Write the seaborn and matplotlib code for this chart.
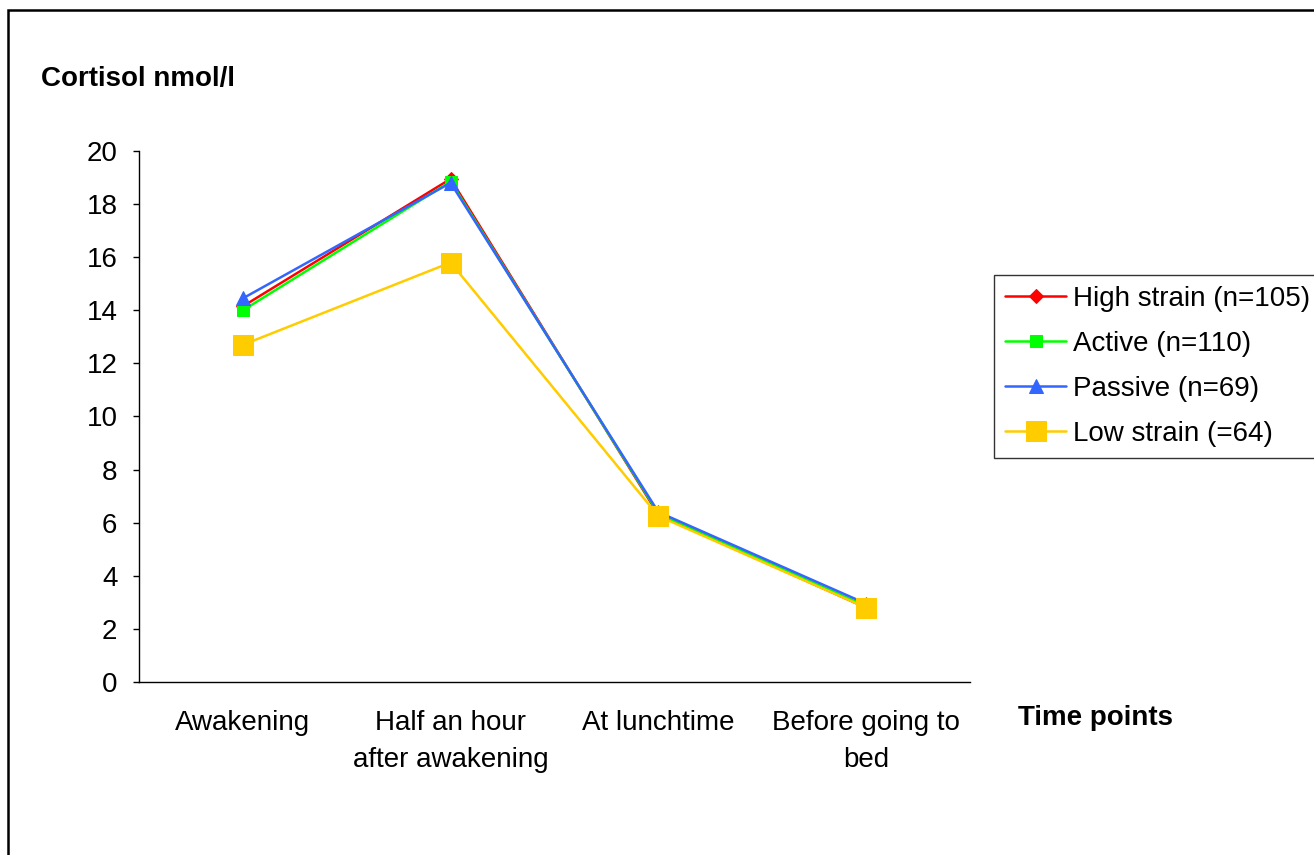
import pandas as pd
import seaborn as sns
import matplotlib.pyplot as plt
from matplotlib.patches import Rectangle
from matplotlib.ticker import MultipleLocator, FixedLocator

# Values
time_points = ["Awakening", "Half an hour\nafter awakening", "At lunchtime", "Before going to\nbed"]
high_strain = [14.15, 18.95, 6.3, 2.8]
active = [14.0, 18.85, 6.35, 2.85]
passive = [14.45, 18.8, 6.4, 2.95]
low_strain = [12.7, 15.8, 6.25, 2.8]

groups = ["High strain (n=105)", "Active (n=110)", "Passive (n=69)", "Low strain (=64)"]
series = [high_strain, active, passive, low_strain]

rows = []
for g, vals in zip(groups, series):
    for t, v in zip(time_points, vals):
        rows.append({"Time": t, "Cortisol": v, "Group": g})
df = pd.DataFrame(rows)

sns.set_style("white")
plt.rcParams['font.family'] = ['Liberation Sans', 'DejaVu Sans']
plt.rcParams['text.color'] = 'black'
plt.rcParams['axes.labelcolor'] = 'black'
plt.rcParams['xtick.color'] = 'black'
plt.rcParams['ytick.color'] = 'black'

colors = ["#FF0000", "#00FF00", "#3366FF", "#FFCC00"]
markers = ["D", "s", "^", "s"]
msizes = [7, 9, 10, 14]
FS = 20

fig = plt.figure(figsize=(13.14, 8.55), dpi=100)
W, H = 1314, 855
ax = fig.add_axes([139 / W, 1 - 682 / H, (970 - 139) / W, (682 - 151) / H])

for g, c, m, ms in zip(groups, colors, markers, msizes):
    sns.lineplot(data=df[df["Group"] == g], x="Time", y="Cortisol", ax=ax,
                 color=c, marker=m, markersize=ms, markeredgecolor=c,
                 linewidth=1.8, label=g, sort=False)

ax.set_xlim(-0.5, 3.5)
ax.set_ylim(0, 20)
ax.yaxis.set_major_locator(MultipleLocator(2))
ax.xaxis.set_major_locator(FixedLocator([0, 1, 2, 3]))
ax.set_xticklabels(time_points, fontsize=FS, linespacing=1.55)
ax.xaxis.set_minor_locator(FixedLocator([-0.5, 0.5, 1.5, 2.5, 3.5]))
ax.tick_params(axis="x", which="major", length=0, pad=20)
ax.tick_params(axis="x", which="minor", length=5, width=1, direction="out")
ax.tick_params(axis="y", which="major", length=4.5, width=1, direction="out",
               labelsize=FS, pad=11, left=True)
ax.set_xlabel("")
ax.set_ylabel("")
for s in ["top", "right"]:
    ax.spines[s].set_visible(False)
for s in ["left", "bottom"]:
    ax.spines[s].set_color("black")
    ax.spines[s].set_linewidth(1)

fig.text(41 / W, 1 - 79 / H, "Cortisol nmol/l", fontsize=FS, fontweight="bold",
         ha="left", va="center")
fig.text(1018 / W, 1 - 718 / H, "Time points", fontsize=FS, fontweight="bold",
         ha="left", va="center")

leg = ax.legend(loc="upper left", bbox_to_anchor=(994 / W, 1 - 275 / H),
                bbox_transform=fig.transFigure, fontsize=FS, frameon=True,
                fancybox=False, borderaxespad=0, handlelength=2.2,
                handletextpad=0.25, labelspacing=0.68, borderpad=0.4)
leg.get_frame().set_edgecolor("black")
leg.get_frame().set_linewidth(1)

# outer chart border (right and bottom fall outside the image)
fig.add_artist(Rectangle((8 / W, -0.1), 1.2, 1 - 10 / H + 0.1, fill=False,
                         edgecolor="black", linewidth=1.8, transform=fig.transFigure))

fig.savefig("out.png", dpi=100)
